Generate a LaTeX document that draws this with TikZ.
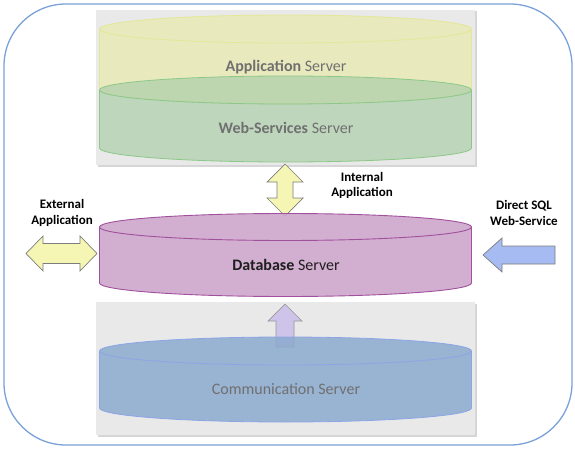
\documentclass[tikz,border=0pt]{standalone}
\usepackage{fontspec}
\setmainfont{Carlito}
\definecolor{outerc}{RGB}{122,162,216}
\definecolor{panelc}{RGB}{233,233,233}
\definecolor{shadowc}{RGB}{214,214,214}
\definecolor{appfill}{RGB}{233,234,188}
\definecolor{appline}{RGB}{226,232,150}
\definecolor{webfill}{RGB}{172,206,170}
\definecolor{webline}{RGB}{140,200,136}
\definecolor{dbfill}{RGB}{204,163,201}
\definecolor{dbline}{RGB}{160,80,156}
\definecolor{comfill}{RGB}{140,170,206}
\definecolor{comline}{RGB}{140,165,230}
\definecolor{yarrow}{RGB}{246,246,180}
\definecolor{barrow}{RGB}{166,187,242}
\definecolor{larrow}{RGB}{206,196,234}
\definecolor{arrline}{RGB}{125,125,125}
\definecolor{srvtext}{RGB}{112,112,112}
\definecolor{dbtext}{RGB}{30,30,30}
\tikzset{
  panel/.style={fill=panelc},
  panelshadow/.style={fill=shadowc},
  arrowshape/.style={draw=arrline, line width=0.7pt, line join=miter},
  srvlabel/.style={font=\fontsize{16}{19}\selectfont, text=srvtext, inner sep=0pt},
  sidelabel/.style={font=\fontsize{13}{15.5}\selectfont\bfseries, align=center, inner sep=0pt},
}
\begin{document}
\begin{tikzpicture}[x=1pt,y=1pt]
\useasboundingbox (0,0) rectangle (575,448);
% outer frame
\draw[outerc, line width=1.3pt, rounded corners=62pt] (4,3) rectangle (572,444);
% panels
\fill[panelshadow] (97.5,281.5) rectangle (476.5,436.5);
\fill[panel] (96,283) rectangle (475,438);
\fill[panelshadow] (97.5,11.5) rectangle (476.5,144.5);
\fill[panel] (96,13) rectangle (475,146);
% Application server (yellow)
\filldraw[fill=appfill, draw=appline, line width=0.8pt, fill opacity=0.95]
  (99.5,419) -- (99.5,358) arc[start angle=180, end angle=360, x radius=186, y radius=14]
  -- (471.5,419) arc[start angle=0, end angle=180, x radius=186, y radius=14] -- cycle;
\draw[appline, line width=0.8pt] (99.5,419) arc[start angle=180, end angle=360, x radius=186, y radius=14];
% Web-Services server (green)
\filldraw[fill=webfill, draw=webline, line width=0.8pt, fill opacity=0.7]
  (99.5,358) -- (99.5,300) arc[start angle=180, end angle=360, x radius=186, y radius=14]
  -- (471.5,358) arc[start angle=0, end angle=180, x radius=186, y radius=14] -- cycle;
\draw[webline, line width=0.8pt] (99.5,358) arc[start angle=180, end angle=360, x radius=186, y radius=14];
\node[srvlabel] (app) at (286,381) {\textbf{Application} Server};
\node[srvlabel] (web) at (286,320) {\textbf{Web-Services} Server};
% Internal application double arrow
\draw[arrowshape, fill=yarrow] (285,284) -- (303,266) -- (293,266) -- (293,250) -- (303,250)
  -- (285,232) -- (267,250) -- (277,250) -- (277,266) -- (267,266) -- cycle;
% Database server
\filldraw[fill=dbfill, draw=dbline, line width=0.9pt, fill opacity=0.88]
  (99.5,221) -- (99.5,165) arc[start angle=180, end angle=360, x radius=186, y radius=13.5]
  -- (471.5,221) arc[start angle=0, end angle=180, x radius=186, y radius=13.5] -- cycle;
\draw[dbline, line width=0.9pt] (99.5,221) arc[start angle=180, end angle=360, x radius=186, y radius=13.5];
\node[srvlabel, text=dbtext] (db) at (286,183) {\textbf{Database} Server};
% External application double arrow
\draw[arrowshape, fill=yarrow] (26,194.5) -- (43,212) -- (43,204.5) -- (80,204.5) -- (80,212)
  -- (97,194.5) -- (80,177) -- (80,184.5) -- (43,184.5) -- (43,177) -- cycle;
% Direct SQL arrow
\draw[arrowshape, fill=barrow] (483,193) -- (502,210) -- (502,202) -- (555,202) -- (555,184)
  -- (502,184) -- (502,176) -- cycle;
% Up arrow
\draw[arrowshape, draw=arrline!80, fill=larrow] (285,144) -- (302,127) -- (294,127) -- (294,101)
  -- (276,101) -- (276,127) -- (268,127) -- cycle;
% Communication server
\filldraw[fill=comfill, draw=comline, line width=0.8pt, fill opacity=0.85]
  (99.5,97) -- (99.5,40) arc[start angle=180, end angle=360, x radius=186, y radius=14]
  -- (471.5,97) arc[start angle=0, end angle=180, x radius=186, y radius=14] -- cycle;
\draw[comline, line width=0.8pt] (99.5,97) arc[start angle=180, end angle=360, x radius=186, y radius=14];
\node[srvlabel] (com) at (286,59) {Communication Server};
% side labels
\node[sidelabel] (internal) at (362,262.5) {Internal\\Application};
\node[sidelabel] (external) at (62,235) {External\\Application};
\node[sidelabel] (direct) at (524,235) {Direct SQL\\Web-Service};
\end{tikzpicture}
\end{document}
